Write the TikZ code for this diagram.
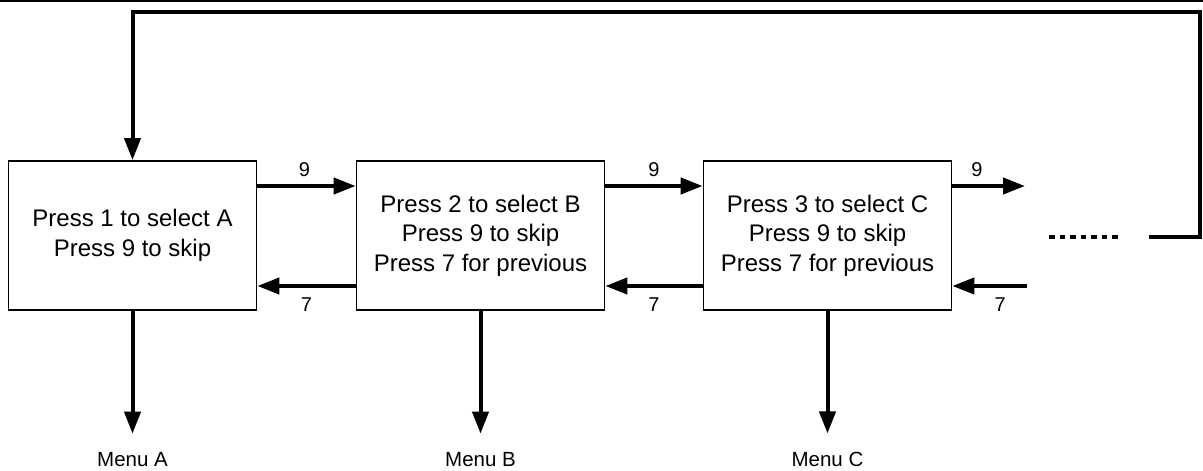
\documentclass[tikz,border=0pt]{standalone}
\usepackage{fontspec}
\setmainfont{Liberation Sans}
\usetikzlibrary{arrows.meta}
\begin{document}
\begin{tikzpicture}[x=1pt,y=-1pt,
  menubox/.style={draw, line width=1.6pt, minimum width=248pt, minimum height=149pt,
    align=center, inner sep=0pt, font=\fontsize{24}{29.5}\selectfont},
  flow/.style={line width=4pt, -{Triangle[length=22pt,width=16pt]}},
  loopline/.style={line width=4pt},
  keylbl/.style={font=\fontsize{20}{24}\selectfont, inner sep=0pt},
  menulbl/.style={font=\fontsize{20.5}{24}\selectfont, inner sep=0pt, anchor=base}]
\useasboundingbox (0,0) rectangle (1203,471);
% rule along the top edge
\draw[line width=1.5pt] (0,0.75) -- (1203,0.75);

% menu boxes
\node[menubox] (A) at (132.5,235.5) {Press 1 to select A\\Press 9 to skip};
\node[menubox] (B) at (480.5,235.5) {Press 2 to select B\\Press 9 to skip\\Press 7 for previous};
\node[menubox] (C) at (827.5,235.5) {Press 3 to select C\\Press 9 to skip\\Press 7 for previous};

% menu targets
\node[menulbl] (mA) at (132.5,466) {Menu A};
\node[menulbl] (mB) at (480.5,466) {Menu B};
\node[menulbl] (mC) at (827.5,466) {Menu C};
\draw[flow, shorten >=18pt] (A.south) -- (mA.north);
\draw[flow, shorten >=18pt] (B.south) -- (mB.north);
\draw[flow, shorten >=18pt] (C.south) -- (mC.north);

% forward (9) and back (7) links
\draw[flow] (A.east |- 0,186) -- (B.west |- 0,186) node[keylbl, pos=0.48, yshift=16pt] {9};
\draw[flow] (B.west |- 0,286) -- (A.east |- 0,286) node[keylbl, pos=0.5, yshift=-19pt] {7};
\draw[flow] (B.east |- 0,186) -- (C.west |- 0,186) node[keylbl, pos=0.5, yshift=16pt] {9};
\draw[flow] (C.west |- 0,286) -- (B.east |- 0,286) node[keylbl, pos=0.5, yshift=-19pt] {7};

% open-ended links to further menus
\coordinate (nextOut) at (1025,186);
\coordinate (nextIn) at (1027,286);
\draw[flow] (C.east |- 0,186) -- (nextOut) node[keylbl, pos=0.34, yshift=16pt] {9};
\draw[flow] (nextIn) -- (C.east |- 0,286) node[keylbl, pos=0.36, yshift=-19pt] {7};

% continuation dots and wrap-around back to the first menu
\coordinate (dotsL) at (1049,237);
\coordinate (dotsR) at (1122,237);
\draw[line width=4pt, dash pattern=on 5.5pt off 5pt] (dotsL) -- (dotsR);
\coordinate (wrapStart) at (1149,237);
\coordinate (wrapCorner) at (1200,12);
\draw[loopline, line join=miter, -{Triangle[length=22pt,width=16pt]}]
  (wrapStart) -- (wrapStart -| wrapCorner) -- (wrapCorner) -- (wrapCorner -| A.north) -- (A.north);
\end{tikzpicture}
\end{document}
